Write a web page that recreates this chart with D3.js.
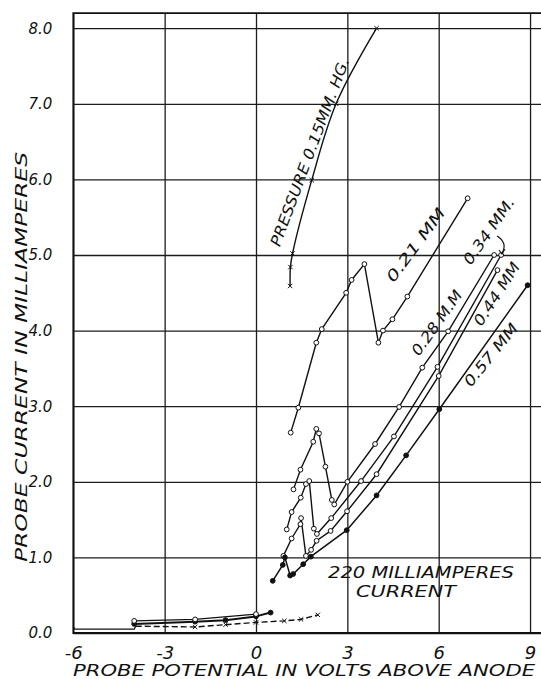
<!DOCTYPE html>
<html lang="en">
<head>
<meta charset="utf-8">
<title>Probe current vs probe potential</title>
<script src="https://cdn.jsdelivr.net/npm/d3@7/dist/d3.min.js"></script>
<style>
  body { margin: 0; background: #fff; }
  svg { display: block; }
  text { font-family: 'DejaVu Sans', sans-serif; font-style: italic; fill: #111; }
</style>
</head>
<body>
<svg id="chart"></svg>
<script>
// axis ticks
var xTicks = [-6, -3, 0, 3, 6, 9];
var yTicks = [0, 1, 2, 3, 4, 5, 6, 7, 8];

// pressure 0.15 mm Hg (x marks)
var v015 = [1.12, 1.13, 1.20, 1.83, 2.63, 3.96];
var i015 = [4.59, 4.84, 5.02, 5.99, 7.00, 8.00];
// 0.21 mm
var v021 = [1.14, 1.39, 1.98, 2.16, 2.96, 3.14, 3.56, 4.02, 4.17, 4.48, 4.97, 6.95];
var i021 = [2.65, 2.98, 3.84, 4.02, 4.50, 4.67, 4.88, 3.84, 4.00, 4.15, 4.45, 5.75];
// 0.28 mm
var v028 = [1.23, 1.46, 1.88, 1.98, 2.07, 2.28, 2.49, 2.57, 3.00, 3.91, 4.70, 5.46, 6.31, 7.82];
var i028 = [1.90, 2.16, 2.53, 2.70, 2.64, 2.20, 1.76, 1.70, 2.00, 2.50, 2.99, 3.51, 3.99, 5.00];
// 0.34 mm
var v034 = [1.01, 1.17, 1.47, 1.64, 1.75, 1.90, 2.00, 2.47, 3.45, 4.53, 5.96, 8.05];
var i034 = [1.37, 1.60, 1.79, 1.97, 2.01, 1.38, 1.31, 1.52, 2.01, 2.60, 3.52, 5.00];
// 0.44 mm
var v044 = [0.90, 1.17, 1.46, 1.48, 1.64, 1.81, 1.99, 2.45, 2.99, 3.96, 6.00, 7.93];
var i044 = [1.02, 1.25, 1.44, 1.52, 1.02, 1.10, 1.22, 1.35, 1.61, 2.10, 3.40, 4.80];
// 0.57 mm (filled dots)
var v057 = [0.55, 0.88, 0.95, 1.12, 1.22, 1.55, 1.80, 2.98, 3.96, 4.93, 6.02, 8.92];
var i057 = [0.69, 0.90, 1.00, 0.76, 0.78, 0.91, 1.01, 1.36, 1.82, 2.35, 2.96, 4.60];
// small currents at low potential
var vLowA = [-4.0, -2.0, 0.0];
var iLowA = [0.16, 0.18, 0.25];
var vLowB = [-4.0, -2.0, -1.0, 0.0, 0.48];
var iLowB = [0.12, 0.15, 0.17, 0.22, 0.27];
var vBase = [-6.0, -5.95, -4.0, -3.95];
var iBase = [0.08, 0.05, 0.05, 0.09];
var vLowX = [-3.95, -2.0, -1.0, 0.0, 0.93, 1.48, 2.03];
var iLowX = [0.09, 0.08, 0.11, 0.14, 0.16, 0.18, 0.24];

var width = 541, height = 679;

var svg = d3.select("#chart")
    .attr("width", width)
    .attr("height", height);

svg.append("rect").attr("width", width).attr("height", height).attr("fill", "#fff");

var x = d3.scaleLinear().domain([-6, 9.5]).range([73.3, 73.3 + 15.5 * 30.45]);
var y = d3.scaleLinear().domain([0, 8.2]).range([633, 633 - 8.2 * 75.6]);

var x0 = x.range()[0], x1 = x.range()[1];
var y0 = y.range()[0], y1 = y.range()[1];

// grid + y labels
var yAxis = svg.append("g")
    .attr("transform", "translate(" + x0 + ",0)")
    .call(d3.axisLeft(y).tickValues(yTicks).tickSize(-(x1 - x0))
        .tickPadding(21).tickFormat(d3.format(".1f")));
yAxis.select(".domain").remove();
yAxis.selectAll(".tick line").attr("stroke", "#1c1c1c").attr("stroke-width", 1.3);
yAxis.selectAll(".tick text").style("font-size", "15px").style("font-family", "'DejaVu Sans', sans-serif");

var xAxis = svg.append("g")
    .attr("transform", "translate(0," + y0 + ")")
    .call(d3.axisBottom(x).tickValues(xTicks).tickSize(-(y0 - y1))
        .tickPadding(13).tickFormat(function(d){ return String(d); }));
xAxis.select(".domain").remove();
xAxis.selectAll(".tick line").attr("stroke", "#1c1c1c").attr("stroke-width", 1.3);
xAxis.selectAll(".tick text").style("font-size", "18px").style("font-family", "'DejaVu Sans', sans-serif");

// frame
svg.append("path")
    .attr("d", "M" + x1 + "," + y1 + "H" + x0 + "V" + y0 + "H" + x1)
    .attr("fill", "none").attr("stroke", "#111").attr("stroke-width", 1.8);

// axis titles
svg.append("text")
    .attr("transform", "translate(21,357) rotate(-90)")
    .attr("text-anchor", "middle").attr("dominant-baseline", "central")
    .attr("textLength", 410).attr("lengthAdjust", "spacingAndGlyphs")
    .style("font-size", "16px")
    .text("PROBE CURRENT IN MILLIAMPERES");

svg.append("text")
    .attr("x", 304).attr("y", 676)
    .attr("text-anchor", "middle")
    .attr("textLength", 462).attr("lengthAdjust", "spacingAndGlyphs")
    .style("font-size", "16px")
    .text("PROBE POTENTIAL IN VOLTS ABOVE ANODE");

function pts(vs, is) {
    return vs.map(function(v, k){ return [v, is[k]]; });
}

function drawCurve(vs, is, mark, opts) {
    opts = opts || {};
    var data = pts(vs, is);
    var line = d3.line()
        .x(function(d){ return x(d[0]); })
        .y(function(d){ return y(d[1]); })
        .curve(opts.curve || d3.curveLinear);
    svg.append("path")
        .datum(data)
        .attr("d", line)
        .attr("fill", "none")
        .attr("stroke", "#111")
        .attr("stroke-width", opts.width || 1.4)
        .attr("stroke-dasharray", opts.dash || null);

    var m = data.slice(opts.skip || 0);
    if (mark === "o" || mark === "f") {
        svg.append("g").selectAll("circle")
            .data(m).enter().append("circle")
            .attr("cx", function(d){ return x(d[0]); })
            .attr("cy", function(d){ return y(d[1]); })
            .attr("r", 2.4)
            .attr("fill", mark === "f" ? "#111" : "#fff")
            .attr("stroke", "#111").attr("stroke-width", 1);
    } else if (mark === "x") {
        svg.append("g").selectAll("path")
            .data(m).enter().append("path")
            .attr("d", function(d){
                var cx = x(d[0]), cy = y(d[1]), s = 2.2;
                return "M" + (cx - s) + "," + (cy - s) + "L" + (cx + s) + "," + (cy + s) +
                       "M" + (cx - s) + "," + (cy + s) + "L" + (cx + s) + "," + (cy - s);
            })
            .attr("stroke", "#111").attr("stroke-width", 1);
    }
}

drawCurve(v015, i015, "x", {curve: d3.curveCatmullRom.alpha(0.5)});
drawCurve(v021, i021, "o");
drawCurve(v028, i028, "o");
drawCurve(v034, i034, "o");
drawCurve(v044, i044, "o");
drawCurve(v057, i057, "f", {width: 1.5});
drawCurve(vBase, iBase, null, {width: 1.3});
drawCurve(vLowX, iLowX, "x", {dash: "6,3", skip: 1});
drawCurve(vLowB, iLowB, "f", {width: 2});
drawCurve(vLowA, iLowA, "o", {width: 1.3});

// curve labels
function label(txt, cx, cy, ang, len, fs) {
    svg.append("text")
        .attr("transform", "translate(" + cx + "," + cy + ") rotate(" + ang + ")")
        .attr("text-anchor", "middle").attr("dominant-baseline", "central")
        .attr("textLength", len).attr("lengthAdjust", "spacingAndGlyphs")
        .style("font-size", fs + "px")
        .text(txt);
}

label("PRESSURE 0.15MM. HG.", 310, 152, -69.5, 200, 15);
label("0.21 MM", 416, 245, -53.5, 88, 15);
label("0.28 M.M", 437, 323, -54.5, 76, 15);
label("0.34 MM.", 489, 231, -55, 78, 15);
label("0.44 MM", 497, 294, -57, 72, 15);
label("0.57 MM", 491, 355, -51, 76, 15);

// small arrow from the 0.34 label
svg.append("path")
    .attr("d", "M497,236 Q508,243 502,253")
    .attr("fill", "none").attr("stroke", "#111").attr("stroke-width", 1.1);
svg.append("path")
    .attr("d", "M499,250 L502,254 L505,249")
    .attr("fill", "none").attr("stroke", "#111").attr("stroke-width", 1.1);

svg.append("text")
    .attr("x", 421).attr("y", 578)
    .attr("text-anchor", "middle")
    .attr("textLength", 186).attr("lengthAdjust", "spacingAndGlyphs")
    .style("font-size", "15px")
    .text("220 MILLIAMPERES");
svg.append("text")
    .attr("x", 406).attr("y", 597)
    .attr("text-anchor", "middle")
    .attr("textLength", 100).attr("lengthAdjust", "spacingAndGlyphs")
    .style("font-size", "15px")
    .text("CURRENT");
</script>
</body>
</html>
